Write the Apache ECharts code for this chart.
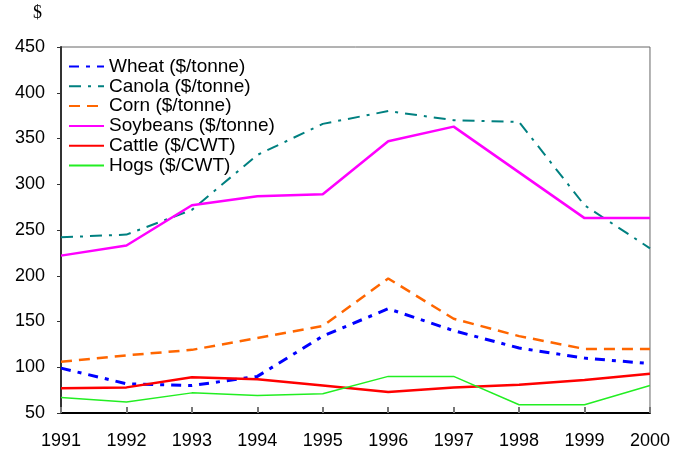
<!DOCTYPE html>
<html>
<head>
<meta charset="utf-8">
<script src="https://cdn.jsdelivr.net/npm/echarts@6/dist/echarts.min.js"></script>
<style>
  html, body { margin: 0; padding: 0; background: #fff; }
  #chart { width: 673px; height: 452px; }
</style>
</head>
<body>
<div id="chart"></div>
<script>
const years = ['1991', '1992', '1993', '1994', '1995', '1996', '1997', '1998', '1999', '2000'];
const wheat = [99, 82, 80, 90, 134, 164, 140, 121, 110, 104];
const canola = [242, 245, 272, 332, 366, 380, 370, 368, 277, 230];
const corn = [106, 113, 119, 132, 145, 197, 153, 134, 120, 120];
const soybeans = [222, 233, 277, 287, 289, 347, 363, 313, 263, 263];
const cattle = [77, 78, 89, 87, 80, 73, 78, 81, 86, 93];
const hogs = [67, 62, 72, 69, 71, 90, 90, 59, 59, 80];

const font = 'Liberation Sans, Arial, sans-serif';

function line(name, data, color, width, type) {
  return {
    name: name,
    type: 'line',
    data: data,
    symbol: 'none',
    color: color,
    lineStyle: { color: color, width: width, type: type }
  };
}

const myChart = echarts.init(document.getElementById('chart'));
const option = {
  animation: false,
  grid: {
    left: 61, right: 23, top: 47, bottom: 39,
    show: true, borderColor: '#666', borderWidth: 1
  },
  graphic: [{
    type: 'text', left: 33, top: 4,
    style: { text: '$', font: '18px "Liberation Serif", "Times New Roman", serif', fill: '#000' }
  }],
  legend: {
    orient: 'vertical',
    left: 68, top: 57, padding: 0,
    itemWidth: 35, itemHeight: 12, itemGap: 0.8,
    itemStyle: { opacity: 0 },
    textStyle: { fontFamily: font, fontSize: 19, color: '#000' },
    data: ['Wheat ($/tonne)', 'Canola ($/tonne)', 'Corn ($/tonne)', 'Soybeans ($/tonne)', 'Cattle ($/CWT)', 'Hogs ($/CWT)']
  },
  xAxis: {
    type: 'category',
    data: years,
    boundaryGap: false,
    axisLine: { lineStyle: { color: '#000', width: 2 } },
    axisTick: { inside: true, length: 6, lineStyle: { color: '#777', width: 2 } },
    axisLabel: { fontFamily: font, fontSize: 18, color: '#000', margin: 19 },
    splitLine: { show: false }
  },
  yAxis: {
    type: 'value',
    min: 50, max: 450, interval: 50,
    axisLine: { show: true, lineStyle: { color: '#333', width: 2 } },
    axisTick: { show: true, length: 4, lineStyle: { color: '#333', width: 1 } },
    axisLabel: { fontFamily: font, fontSize: 18, color: '#000', margin: 16 },
    splitLine: { show: false }
  },
  series: [
    line('Wheat ($/tonne)', wheat, '#0000ff', 3, [10, 7, 4, 7]),
    line('Canola ($/tonne)', canola, '#008080', 2, [12, 7, 3, 7]),
    line('Corn ($/tonne)', corn, '#ff6600', 2.5, [11, 7]),
    line('Soybeans ($/tonne)', soybeans, '#ff00ff', 2.5, 'solid'),
    line('Cattle ($/CWT)', cattle, '#ff0000', 2.5, 'solid'),
    line('Hogs ($/CWT)', hogs, '#22ee22', 1.5, 'solid')
  ]
};
myChart.setOption(option);
</script>
</body>
</html>
